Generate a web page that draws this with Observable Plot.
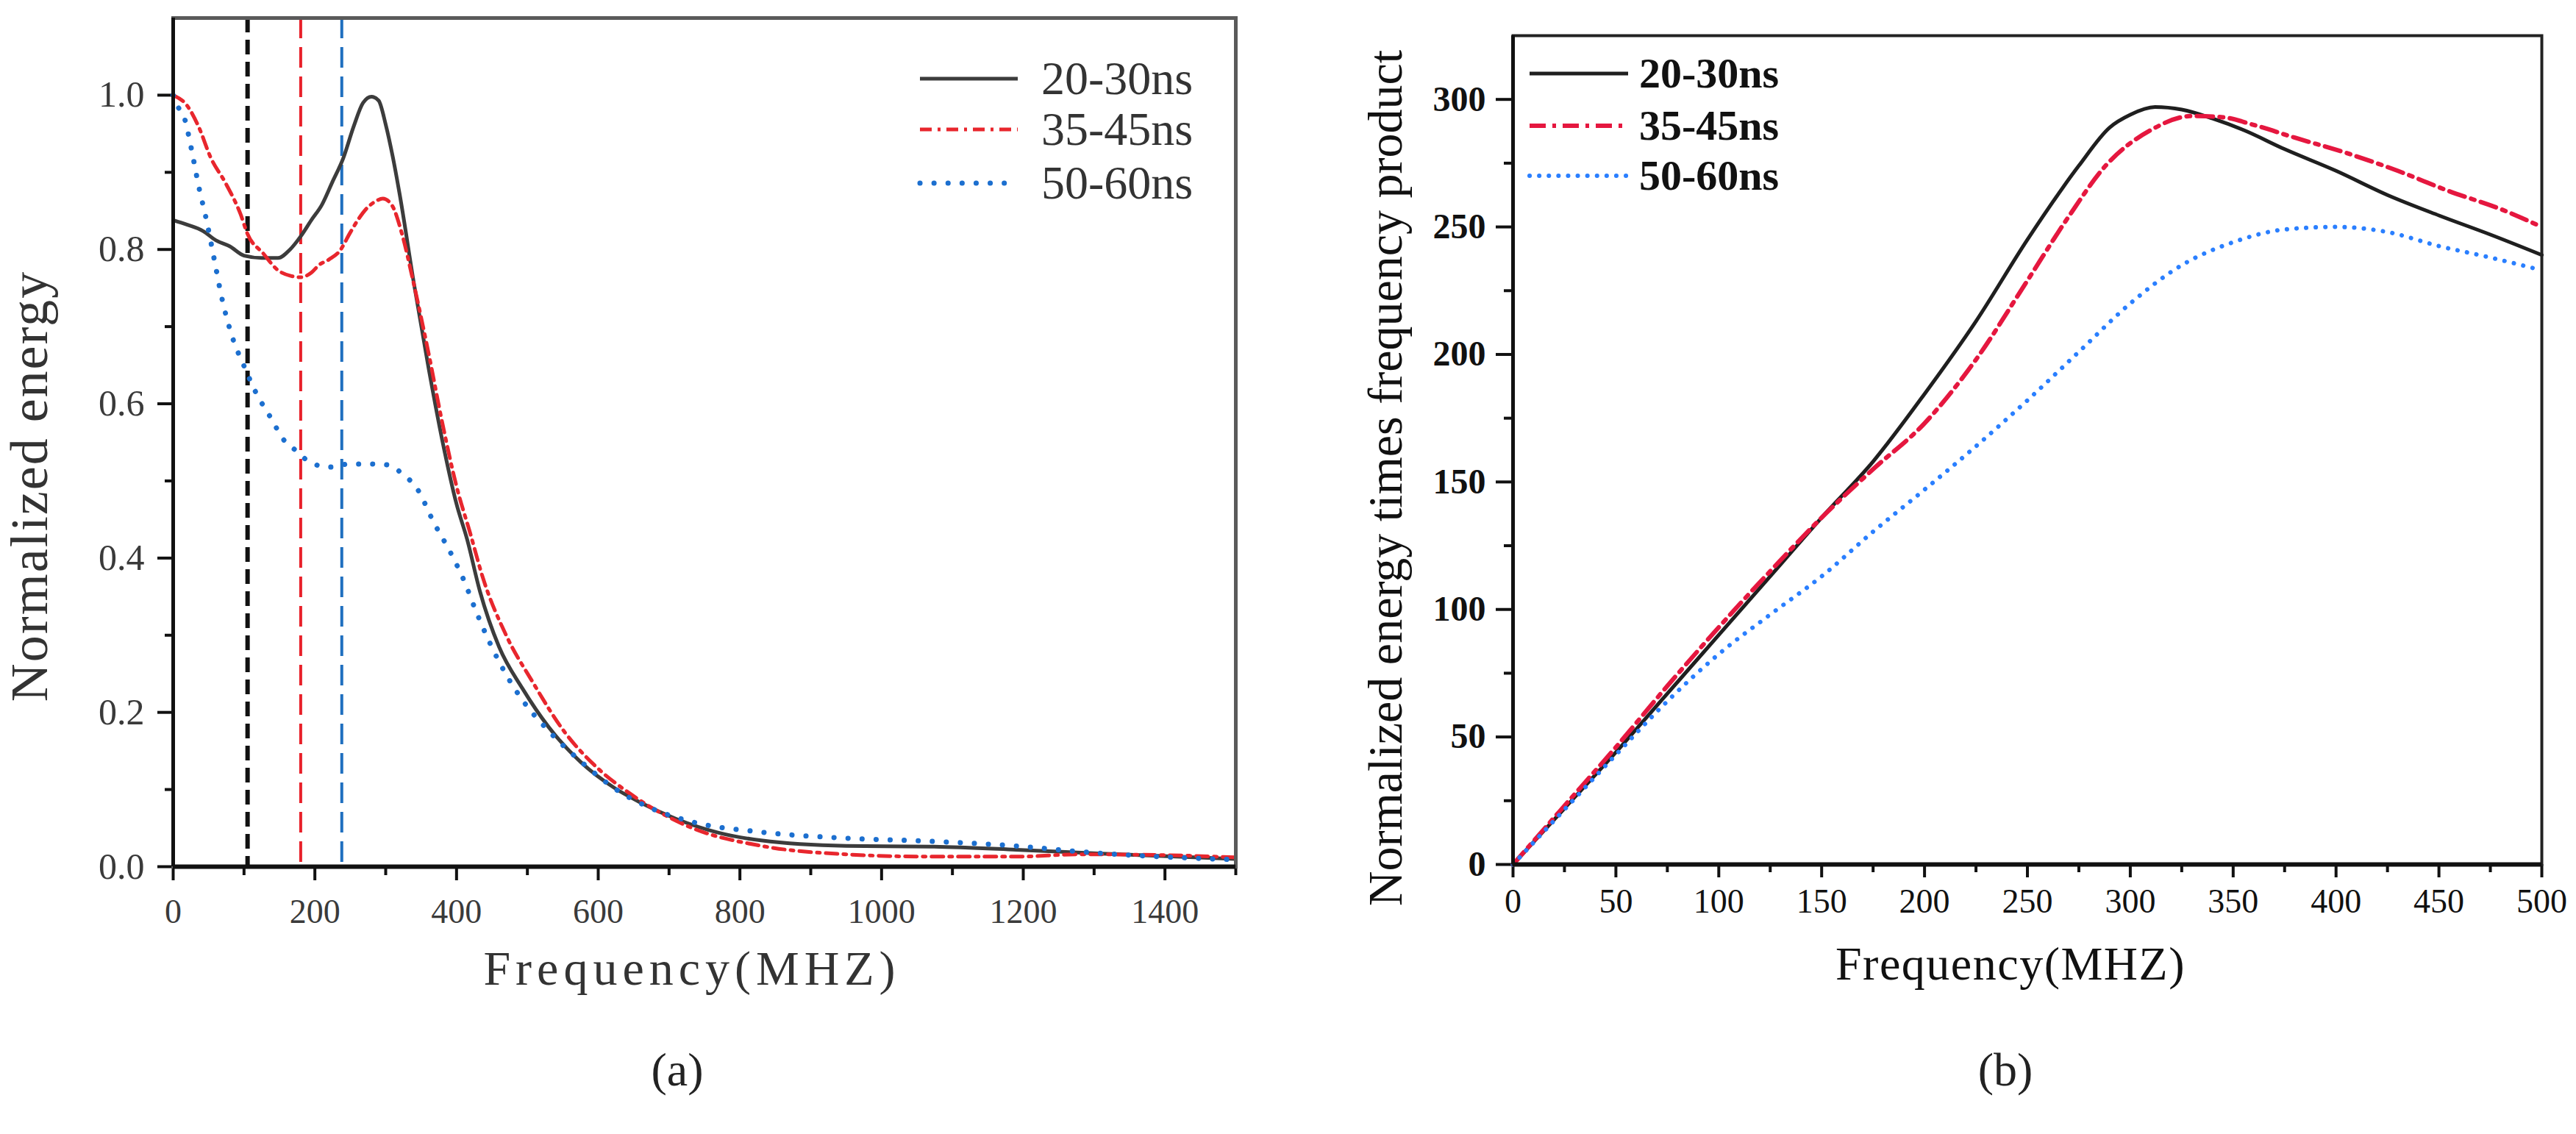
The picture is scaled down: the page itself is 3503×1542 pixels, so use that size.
<!DOCTYPE html>
<html>
<head>
<meta charset="utf-8">
<script src="https://cdn.jsdelivr.net/npm/d3@7"></script>
<script src="https://cdn.jsdelivr.net/npm/@observablehq/plot@0.6"></script>
<style>
  html, body { margin: 0; padding: 0; background: #fff; }
  #page { position: relative; width: 3503px; height: 1542px; overflow: hidden; }
  #page > * { position: absolute; top: 0; }
  #chartA { left: 0; }
  #chartB { left: 1800px; }
  #overlay { left: 0; pointer-events: none; }
</style>
</head>
<body>
<div id="page">
  <div id="chartA"></div>
  <div id="chartB"></div>
  <svg id="overlay" width="3503" height="1542"></svg>
</div>
<script>
// ---- panel (a): normalized energy vs frequency ----
const freqA_20 = [0, 20, 42, 60, 80, 100, 125, 148, 165, 180, 195, 210, 225, 240, 255, 268, 280, 290, 300, 310, 320, 340, 360, 380, 400, 415, 433, 460, 493, 530, 576, 623, 660, 710, 770, 830, 950, 1070, 1190, 1310, 1500];
const energyA_20 = [0.838, 0.832, 0.824, 0.812, 0.804, 0.792, 0.789, 0.789, 0.800, 0.817, 0.838, 0.858, 0.888, 0.918, 0.960, 0.990, 0.998, 0.993, 0.962, 0.920, 0.870, 0.755, 0.649, 0.552, 0.470, 0.424, 0.357, 0.285, 0.231, 0.181, 0.135, 0.102, 0.083, 0.062, 0.044, 0.034, 0.027, 0.026, 0.022, 0.017, 0.010];

const freqA_35 = [0, 20, 36, 53, 74, 95, 105, 127, 148, 165, 180, 195, 206, 220, 235, 250, 262, 275, 285, 296, 309, 323, 339, 360, 380, 400, 420, 437, 470, 507, 553, 600, 646, 733, 830, 950, 1070, 1190, 1280, 1400, 1500];
const energyA_35 = [1.000, 0.986, 0.959, 0.919, 0.886, 0.846, 0.820, 0.795, 0.773, 0.766, 0.764, 0.770, 0.780, 0.787, 0.798, 0.822, 0.840, 0.855, 0.862, 0.866, 0.857, 0.820, 0.758, 0.668, 0.575, 0.493, 0.430, 0.375, 0.300, 0.240, 0.174, 0.127, 0.094, 0.050, 0.027, 0.016, 0.013, 0.013, 0.016, 0.015, 0.012];

const freqA_50 = [0, 5, 16, 26, 36, 47, 58, 68, 84, 100, 116, 137, 158, 174, 195, 222, 248, 285, 307, 321, 345, 368, 391, 410, 428, 447, 470, 493, 530, 576, 627, 674, 733, 828, 948, 1067, 1187, 1300, 1500];
const energyA_50 = [1.000, 0.988, 0.970, 0.929, 0.882, 0.838, 0.787, 0.740, 0.685, 0.649, 0.616, 0.583, 0.551, 0.539, 0.523, 0.518, 0.522, 0.522, 0.520, 0.511, 0.489, 0.446, 0.408, 0.372, 0.330, 0.290, 0.249, 0.216, 0.176, 0.136, 0.099, 0.076, 0.058, 0.045, 0.037, 0.033, 0.027, 0.018, 0.009];

// vertical dashed markers (MHz)
const refFreqA = [105, 180, 238];

const xTicksA = [0, 200, 400, 600, 800, 1000, 1200, 1400];
const xMinorA = [100, 300, 500, 700, 900, 1100, 1300, 1500];
const yTicksA = [0, 0.2, 0.4, 0.6, 0.8, 1.0];
const yMinorA = [0.1, 0.3, 0.5, 0.7, 0.9];

// ---- panel (b): normalized energy x frequency ----
const freqB_20 = [0, 25, 50, 75, 100, 125, 150, 175, 200, 225, 250, 275, 290, 300, 312, 325, 340, 355, 375, 400, 425, 450, 475, 500];
const prodB_20 = [0, 22, 44, 67, 90, 113, 136, 158, 184.5, 213, 245, 274, 289, 294, 297, 296, 292.5, 288, 280.5, 272, 262.5, 254.5, 247, 239];

const freqB_35 = [0, 25, 50, 75, 100, 125, 150, 175, 200, 225, 250, 270, 288, 310, 330, 345, 360, 380, 405, 430, 455, 480, 500];
const prodB_35 = [0, 23, 46, 70, 93, 115, 136, 155, 173, 198, 229, 254, 274, 288, 293.5, 293, 290, 285, 279, 272, 264, 257, 250];

const freqB_50 = [0, 25, 50, 75, 100, 125, 150, 175, 200, 225, 250, 275, 300, 325, 350, 375, 400, 425, 450, 475, 500];
const prodB_50 = [0, 21.5, 43, 64, 82.5, 98, 113, 130.5, 147, 164, 182, 201, 220, 235, 244, 249, 250, 248, 242.5, 238, 233];

const xTicksB = [0, 50, 100, 150, 200, 250, 300, 350, 400, 450, 500];
const xMinorB = [25, 75, 125, 175, 225, 275, 325, 375, 425, 475];
const yTicksB = [0, 50, 100, 150, 200, 250, 300];
const yMinorB = [25, 75, 125, 175, 225, 275];

const seriesNames = ["20-30ns", "35-45ns", "50-60ns"];

const rowsOf = (fs, vs) => fs.map((f, i) => ({f, v: vs[i]}));

const styleA = [
  {stroke: "#3c3c3c", strokeWidth: 5},
  {stroke: "#e8262d", strokeWidth: 5, strokeDasharray: "16,8,4,8"},
  {stroke: "#1c6fcf", strokeWidth: 7, strokeDasharray: "0.1,19", strokeLinecap: "round"}
];
const styleB = [
  {stroke: "#1f1f1f", strokeWidth: 5},
  {stroke: "#e5173f", strokeWidth: 6, strokeDasharray: "22,9,5,9"},
  {stroke: "#2a7fff", strokeWidth: 6, strokeDasharray: "0.1,13", strokeLinecap: "round"}
];
const refStyleA = [
  {stroke: "#111", strokeWidth: 6, strokeDasharray: "20,10"},
  {stroke: "#e8212a", strokeWidth: 4, strokeDasharray: "28,12"},
  {stroke: "#1f6fbf", strokeWidth: 4, strokeDasharray: "28,12"}
];

const dataA = [rowsOf(freqA_20, energyA_20), rowsOf(freqA_35, energyA_35), rowsOf(freqA_50, energyA_50)];
const dataB = [rowsOf(freqB_20, prodB_20), rowsOf(freqB_35, prodB_35), rowsOf(freqB_50, prodB_50)];

const serif = "'Liberation Serif', 'Times New Roman', serif";

const chartA = Plot.plot({
  width: 1740,
  height: 1400,
  marginLeft: 235,
  marginRight: 60,
  marginTop: 24,
  marginBottom: 222,
  x: {domain: [0, 1500]},
  y: {domain: [0, 1.1]},
  style: {fontFamily: serif, color: "#3a3a3a", background: "transparent", overflow: "visible"},
  marks: [
    Plot.axisX({ticks: xTicksA, tickSize: 19, tickPadding: 25, fontSize: 46, strokeWidth: 4, stroke: "#111",
      tickFormat: d3.format("d"), label: null}),
    Plot.axisX({ticks: xMinorA, tickSize: 12, strokeWidth: 4, stroke: "#111", text: null, label: null}),
    Plot.axisY({ticks: yTicksA, tickSize: 21, tickPadding: 18, fontSize: 50, strokeWidth: 4, stroke: "#111",
      tickFormat: d3.format(".1f"), label: null}),
    Plot.axisY({ticks: yMinorA, tickSize: 11, strokeWidth: 4, stroke: "#111", text: null, label: null}),
    ...refFreqA.map((f, i) => Plot.ruleX([f], refStyleA[i])),
    ...dataA.map((rows, i) => Plot.line(rows, {x: "f", y: "v", curve: "monotone-x", ...styleA[i]})),
    Plot.frame({stroke: "#5a5a5a", strokeWidth: 5}),
    Plot.ruleX([0], {stroke: "#111", strokeWidth: 5}),
    Plot.ruleY([0], {stroke: "#111", strokeWidth: 6})
  ]
});
document.querySelector("#chartA").append(chartA);

const chartB = Plot.plot({
  width: 1703,
  height: 1400,
  marginLeft: 257,
  marginRight: 47,
  marginTop: 48,
  marginBottom: 225,
  x: {domain: [0, 500]},
  y: {domain: [0, 325]},
  style: {fontFamily: serif, color: "#111", background: "transparent", overflow: "visible"},
  marks: [
    Plot.axisX({ticks: xTicksB, tickSize: 18, tickPadding: 15, fontSize: 46, strokeWidth: 4, label: null}),
    Plot.axisX({ticks: xMinorB, tickSize: 11, strokeWidth: 4, text: null, label: null}),
    Plot.axisY({ticks: yTicksB, tickSize: 23, tickPadding: 14, fontSize: 48, fontWeight: "bold", strokeWidth: 4, label: null}),
    Plot.axisY({ticks: yMinorB, tickSize: 12, strokeWidth: 4, text: null, label: null}),
    ...dataB.map((rows, i) => Plot.line(rows, {x: "f", y: "v", curve: "monotone-x", ...styleB[i]})),
    Plot.frame({stroke: "#222", strokeWidth: 4}),
    Plot.ruleX([0], {stroke: "#111", strokeWidth: 5}),
    Plot.ruleY([0], {stroke: "#111", strokeWidth: 6})
  ]
});
document.querySelector("#chartB").append(chartB);

// ---- titles, captions and legends ----
const overlay = d3.select("#overlay").style("font-family", serif);

function addText(x, y, txt, opts = {}) {
  const t = overlay.append("text")
    .attr("x", x).attr("y", y)
    .attr("text-anchor", opts.anchor || "middle")
    .attr("font-size", opts.size || 64)
    .attr("fill", opts.fill || "#111")
    .text(txt);
  if (opts.spacing) t.attr("letter-spacing", opts.spacing);
  if (opts.weight) t.attr("font-weight", opts.weight);
  if (opts.rotate) t.attr("transform", `rotate(-90,${x},${y})`);
  return t;
}

addText(941, 1339, "Frequency(MHZ)", {size: 66, spacing: 7, fill: "#333"});
addText(64, 661, "Normalized energy", {size: 72, spacing: 2, fill: "#333", rotate: true});
addText(921, 1476, "(a)", {size: 64, fill: "#222"});

addText(2734, 1332, "Frequency(MHZ)", {size: 64, spacing: 1.5});
addText(1906, 650, "Normalized energy times frequency product", {size: 66, rotate: true});
addText(2727, 1476, "(b)", {size: 64, fill: "#222"});

function addLegend(x1, x2, tx, rowsY, styles, size, weight, fill) {
  rowsY.forEach((y, i) => {
    const s = styles[i];
    const l = overlay.append("line")
      .attr("x1", x1).attr("x2", x2).attr("y1", y).attr("y2", y)
      .attr("stroke", s.stroke).attr("stroke-width", s.strokeWidth);
    if (s.strokeDasharray) l.attr("stroke-dasharray", s.strokeDasharray);
    if (s.strokeLinecap) l.attr("stroke-linecap", s.strokeLinecap);
    addText(tx, y + size * 0.33, seriesNames[i], {anchor: "start", size, weight, fill});
  });
}

addLegend(1251, 1384, 1416, [107, 176, 249], styleA, 64, null, "#333");
addLegend(2080, 2214, 2229, [100, 171, 239], styleB, 58, "bold", "#111");
</script>
</body>
</html>
